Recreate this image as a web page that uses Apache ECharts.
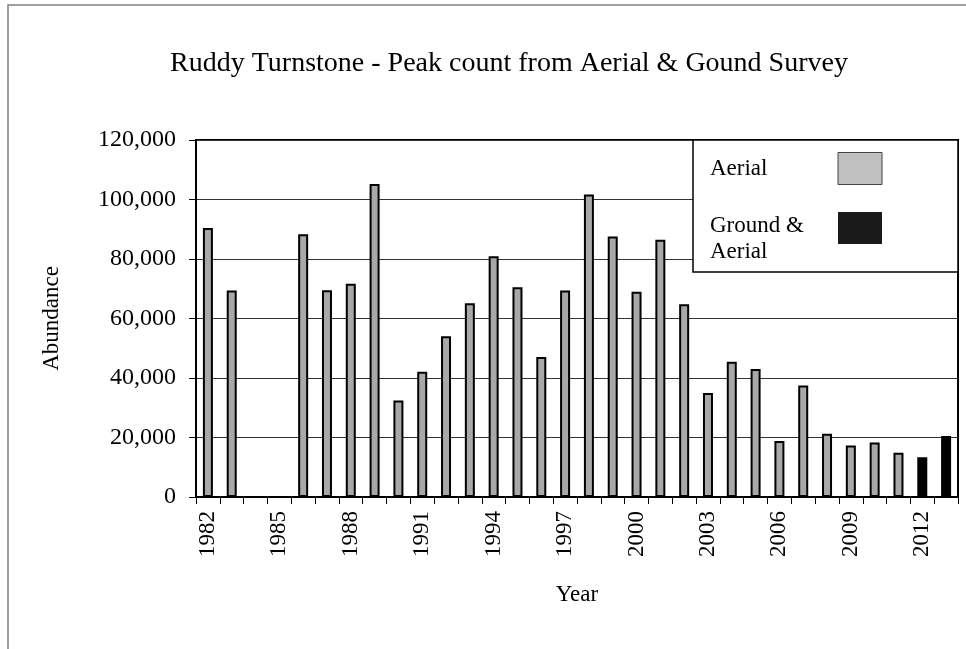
<!DOCTYPE html>
<html>
<head>
<meta charset="utf-8">
<script src="https://cdn.jsdelivr.net/npm/echarts@6/dist/echarts.min.js"></script>
<style>
  html, body { margin: 0; padding: 0; background: #fff; }
  #chart { width: 966px; height: 649px; }
</style>
</head>
<body>
<div id="chart"></div>
<script>
// survey years 1982 - 2013
const years = [
  '1982', '1983', '1984', '1985', '1986', '1987', '1988', '1989', '1990', '1991',
  '1992', '1993', '1994', '1995', '1996', '1997', '1998', '1999', '2000', '2001',
  '2002', '2003', '2004', '2005', '2006', '2007', '2008', '2009', '2010', '2011',
  '2012', '2013'
];

// peak counts, aerial survey only (no survey 1984, 1985)
const aerial = [
  90400, 69400, null, null, 88300, 69500, 71700, 105200, 32400, 42100,
  54000, 65100, 80900, 70500, 47100, 69400, 101700, 87600, 69000, 86500,
  64800, 35000, 45500, 43000, 18800, 37500, 21300, 17300, 18300, 14900,
  null, null
];

// peak counts, ground & aerial survey
const groundAerial = [
  null, null, null, null, null, null, null, null, null, null,
  null, null, null, null, null, null, null, null, null, null,
  null, null, null, null, null, null, null, null, null, null,
  13400, 20500
];

const yTicks = [0, 20000, 40000, 60000, 80000, 100000, 120000];

const serif = '"Liberation Serif", "Times New Roman", serif';

const chart = echarts.init(document.getElementById('chart'));

const option = {
  animation: false,
  backgroundColor: '#fff',
  textStyle: { fontFamily: serif, color: '#000' },
  title: {
    text: 'Ruddy Turnstone - Peak count from Aerial & Gound Survey',
    left: 504,
    textAlign: 'center',
    top: 45,
    textStyle: { fontFamily: serif, fontSize: 28, fontWeight: 'normal', color: '#000' }
  },
  graphic: [
    {
      // outer chart frame
      type: 'rect',
      shape: { x: 8, y: 5, width: 975, height: 660 },
      style: { fill: null, stroke: '#808080', lineWidth: 1.5 },
      silent: true
    },
    {
      // legend box
      type: 'rect',
      z: 3,
      shape: { x: 693, y: 140, width: 265, height: 132 },
      style: { fill: '#fff', stroke: '#000', lineWidth: 1.5 },
      silent: true
    }
  ],
  legend: {
    z: 5,
    orient: 'vertical',
    left: 710,
    top: 152,
    align: 'right',
    padding: 0,
    itemGap: 16,
    itemWidth: 44,
    itemHeight: 32,
    formatter: name => {
      const lines = name.split('\n').map(s => '{t|' + s + '}');
      return (lines.length > 1 ? '{s| }\n' : '') + lines.join('\n');
    },
    textStyle: {
      fontFamily: serif,
      fontSize: 23,
      color: '#000',
      rich: {
        t: { fontFamily: serif, fontSize: 23, color: '#000', width: 123, align: 'left', lineHeight: 26 },
        s: { fontSize: 2, lineHeight: 22, width: 123 }
      }
    },
    data: [
      { name: 'Aerial', icon: 'rect', itemStyle: { color: '#c0c0c0', borderColor: '#444', borderWidth: 1 } },
      { name: 'Ground &\nAerial', icon: 'rect', itemStyle: { color: '#1a1a1a', borderWidth: 0 } }
    ]
  },
  grid: {
    left: 196,
    right: 8,
    top: 140,
    bottom: 152,
    show: true,
    borderColor: '#000',
    borderWidth: 2,
    backgroundColor: 'transparent'
  },
  xAxis: {
    type: 'category',
    data: years,
    name: 'Year',
    nameLocation: 'middle',
    nameGap: 86,
    nameTextStyle: { fontFamily: serif, fontSize: 23, color: '#000' },
    axisLine: { lineStyle: { color: '#000', width: 2 } },
    axisTick: { show: true, interval: 0, length: 7, lineStyle: { color: '#000', width: 1 } },
    axisLabel: {
      interval: 2,
      rotate: 90,
      margin: 14,
      fontFamily: serif,
      fontSize: 23,
      color: '#000'
    },
    splitLine: { show: false }
  },
  yAxis: {
    type: 'value',
    min: 0,
    max: yTicks[yTicks.length - 1],
    interval: yTicks[1] - yTicks[0],
    name: 'Abundance',
    nameLocation: 'middle',
    nameGap: 133,
    nameRotate: 90,
    nameTextStyle: { fontFamily: serif, fontSize: 23, color: '#000' },
    axisLine: { show: true, lineStyle: { color: '#000', width: 2 } },
    axisTick: { show: true, length: 7, lineStyle: { color: '#000', width: 1 } },
    axisLabel: {
      margin: 20,
      fontFamily: serif,
      fontSize: 24,
      color: '#000',
      formatter: v => v.toLocaleString('en-US')
    },
    splitLine: { show: true, lineStyle: { color: '#333', width: 1 } }
  },
  series: [
    {
      name: 'Aerial',
      type: 'bar',
      data: aerial,
      barWidth: 10,
      barGap: '-100%',
      itemStyle: { color: '#a8a8a8', borderColor: '#000', borderWidth: 2 }
    },
    {
      name: 'Ground &\nAerial',
      type: 'bar',
      data: groundAerial,
      barWidth: 10,
      barGap: '-100%',
      itemStyle: { color: '#000', borderColor: '#000', borderWidth: 2 }
    }
  ]
};

chart.setOption(option);
</script>
</body>
</html>
